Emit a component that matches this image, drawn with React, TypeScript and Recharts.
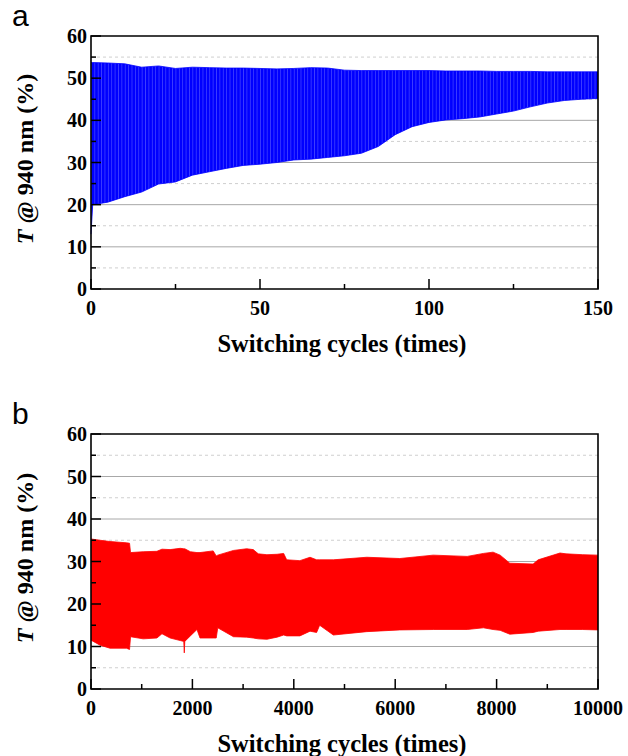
import React from "react";
import {
  Area,
  CartesianGrid,
  ComposedChart,
  ReferenceArea,
  XAxis,
  YAxis,
} from "recharts";

// panel a: envelope of the fast switching trace (first 150 cycles)
const cyclesA = [0, 0.5, 5, 10, 15, 20, 25, 30, 35, 40, 45, 50, 55, 60, 65, 70, 75, 80, 85, 90, 95, 100, 105, 110, 115, 120, 125, 130, 135, 140, 145, 150];
const upperA = [53.7, 53.7, 53.6, 53.4, 52.6, 52.9, 52.3, 52.6, 52.5, 52.4, 52.4, 52.3, 52.2, 52.3, 52.5, 52.4, 51.9, 51.8, 51.8, 51.8, 51.8, 51.8, 51.7, 51.7, 51.7, 51.6, 51.6, 51.6, 51.5, 51.5, 51.5, 51.5];
const lowerA = [13, 20, 20.6, 21.9, 23.0, 24.9, 25.4, 27.0, 27.8, 28.6, 29.3, 29.6, 30.0, 30.6, 30.8, 31.2, 31.6, 32.2, 33.8, 36.6, 38.5, 39.5, 40.1, 40.4, 40.8, 41.5, 42.2, 43.2, 44.1, 44.7, 45.0, 45.2];

// panel b: envelope over 10000 cycles
const cyclesB = [0, 180, 375, 700, 760, 780, 1030, 1300, 1400, 1560, 1760, 1830, 1840, 1850, 1960, 2090, 2150, 2410, 2470, 2500, 2810, 3070, 3200, 3300, 3470, 3670, 3800, 3860, 4120, 4320, 4450, 4510, 4780, 5440, 6090, 6750, 7420, 7740, 7930, 8070, 8260, 8720, 8820, 9250, 9370, 9700, 10000];
const upperB = [35.3, 35.0, 34.7, 34.4, 34.3, 32.1, 32.3, 32.4, 32.9, 32.8, 33.1, 33.0, 33.0, 33.0, 32.3, 32.1, 32.1, 32.5, 31.3, 31.5, 32.6, 33.0, 32.8, 31.8, 31.6, 31.7, 31.9, 30.4, 30.2, 31.0, 30.4, 30.4, 30.4, 31.0, 30.7, 31.5, 31.2, 31.9, 32.2, 31.5, 29.6, 29.4, 30.4, 32.0, 31.8, 31.6, 31.5];
const lowerB = [11.5, 10.3, 9.6, 9.6, 9.3, 12.3, 11.8, 12.0, 13.0, 12.0, 11.4, 11.2, 8.5, 11.2, 12.5, 14.0, 12.0, 12.0, 12.0, 14.4, 12.3, 12.2, 12.0, 11.8, 11.7, 12.2, 12.7, 12.5, 12.5, 13.6, 13.3, 15.0, 12.7, 13.5, 13.9, 14.0, 14.0, 14.4, 14.0, 13.8, 12.9, 13.3, 13.6, 14.0, 14.0, 14.0, 13.9];

const yTicks = [0, 5, 10, 15, 20, 25, 30, 35, 40, 45, 50, 55, 60];
const yMajor = [0, 10, 20, 30, 40, 50, 60];
const gridSolid = [10, 20, 30, 40, 50];
const gridDashed = [5, 15, 25, 35, 45, 55];
const xTicksA = [0, 25, 50, 75, 100, 125, 150];
const xMajorA = [0, 50, 100, 150];
const xTicksB = [0, 1000, 2000, 3000, 4000, 5000, 6000, 7000, 8000, 9000, 10000];
const xMajorB = [0, 2000, 4000, 6000, 8000, 10000];

const serif = "'Liberation Serif', 'Times New Roman', serif";
const sans = "'Liberation Sans', Arial, sans-serif";

const W = 628;
const H = 370;

function makeXTick(majors: number[]) {
  return (props: any) => {
    const { x, y, payload } = props;
    const major = majors.includes(payload.value);
    return (
      <g>
        <line x1={x} x2={x} y1={y} y2={y - (major ? 10 : 5)} stroke="#000" strokeWidth={1.5} />
        {major && (
          <text x={x} y={y + 26} textAnchor="middle" fontFamily={serif} fontWeight="bold" fontSize={20} fill="#000">
            {payload.value}
          </text>
        )}
      </g>
    );
  };
}

function YTick(props: any) {
  const { x, y, payload } = props;
  const major = yMajor.includes(payload.value);
  return (
    <g>
      <line x1={x} x2={x + (major ? 10 : 5)} y1={y} y2={y} stroke="#000" strokeWidth={1.5} />
      {major && (
        <text x={x - 4} y={y + 7} textAnchor="end" fontFamily={serif} fontWeight="bold" fontSize={20} fill="#000">
          {payload.value}
        </text>
      )}
    </g>
  );
}

function Panel(props: {
  id: string;
  letter: string;
  cycles: number[];
  upper: number[];
  lower: number[];
  xMax: number;
  xTicks: number[];
  xMajor: number[];
  color: string;
  stripe?: string;
  top: number;
  plotTop: number;
  plotBottom: number;
}) {
  const { id, letter, cycles, upper, lower, xMax, xTicks, xMajor, color, stripe, top, plotTop, plotBottom } = props;
  const data = cycles.map((c, i) => ({ c, band: [lower[i], upper[i]] }));
  const plotMid = (plotTop + plotBottom) / 2;
  // one switching cycle is ~3.38 px wide in panel a
  const period = (598 - 91) / 150;
  return (
    <div style={{ position: "absolute", left: 0, top, width: W, height: H }}>
      <div style={{ position: "absolute", left: 12, top: plotTop - 33, fontFamily: sans, fontSize: 30, lineHeight: "26px" }}>
        {letter}
      </div>
      <ComposedChart
        width={W}
        height={H}
        data={data}
        margin={{ top: plotTop, right: W - 598, left: 90, bottom: H - plotBottom - 1 }}
      >
        <defs>
          <pattern id={`stripes-${id}`} patternUnits="userSpaceOnUse" x={91} y={0} width={period} height={10}>
            <rect x={0} y={0} width={period} height={10} fill={color} />
            {stripe && <rect x={0} y={0} width={0.7} height={10} fill={stripe} />}
          </pattern>
        </defs>
        <CartesianGrid horizontal vertical={false} horizontalValues={gridDashed} stroke="#cfcfcf" strokeDasharray="3 3" />
        <CartesianGrid horizontal vertical={false} horizontalValues={gridSolid} stroke="#a8a8a8" />
        <XAxis
          dataKey="c"
          type="number"
          domain={[0, xMax]}
          ticks={xTicks}
          interval={0}
          tickSize={0}
          tickMargin={0}
          height={1}
          axisLine={false}
          tick={makeXTick(xMajor)}
        />
        <YAxis
          type="number"
          domain={[0, 60]}
          ticks={yTicks}
          interval={0}
          tickSize={0}
          tickMargin={0}
          width={1}
          axisLine={false}
          tick={YTick}
        />
        <Area
          type="linear"
          dataKey="band"
          stroke={color}
          strokeWidth={0.8}
          fill={stripe ? `url(#stripes-${id})` : color}
          fillOpacity={1}
          isAnimationActive={false}
          dot={false}
          activeDot={false}
        />
        <ReferenceArea x1={0} x2={xMax} y1={0} y2={60} fill="none" fillOpacity={0} stroke="#000" strokeWidth={1.6} />
      </ComposedChart>
      <div
        style={{
          position: "absolute",
          left: 25,
          top: plotMid - 4,
          transform: "translate(-50%, -50%) rotate(-90deg)",
          whiteSpace: "nowrap",
          fontFamily: serif,
          fontWeight: "bold",
          fontSize: 24,
        }}
      >
        <i>T</i> @ 940 nm (%)
      </div>
      <div
        style={{
          position: "absolute",
          left: 342,
          top: plotBottom + 55,
          transform: "translate(-50%, -50%)",
          whiteSpace: "nowrap",
          fontFamily: serif,
          fontWeight: "bold",
          fontSize: 24.5,
        }}
      >
        Switching cycles (times)
      </div>
    </div>
  );
}

export default function App() {
  return (
    <div style={{ position: "absolute", left: 0, top: 0, width: 628, height: 756, background: "#fff", overflow: "hidden" }}>
      <Panel
        id="a"
        letter="a"
        cycles={cyclesA}
        upper={upperA}
        lower={lowerA}
        xMax={150}
        xTicks={xTicksA}
        xMajor={xMajorA}
        color="#0000ff"
        stripe="#4a4aff"
        top={0}
        plotTop={36}
        plotBottom={289}
      />
      <Panel
        id="b"
        letter="b"
        cycles={cyclesB}
        upper={upperB}
        lower={lowerB}
        xMax={10000}
        xTicks={xTicksB}
        xMajor={xMajorB}
        color="#ff0000"
        top={398}
        plotTop={36}
        plotBottom={291}
      />
    </div>
  );
}
